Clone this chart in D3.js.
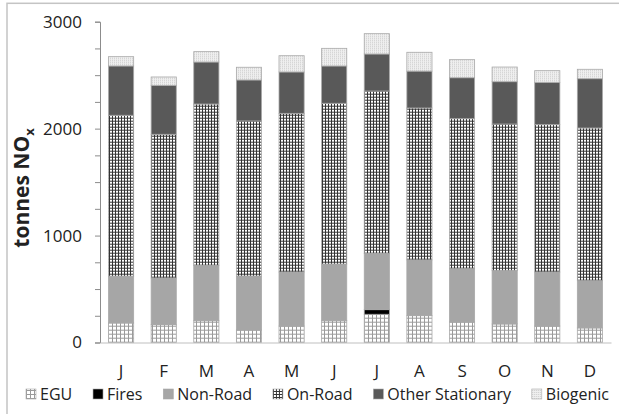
<!DOCTYPE html>
<html>
<head>
<meta charset="utf-8">
<script src="https://cdn.jsdelivr.net/npm/d3@7"></script>
<style>
  body { margin: 0; background: #fff; }
  text { font-family: "Open Sans", "Liberation Sans", sans-serif; fill: #222; }
</style>
</head>
<body>
<svg id="chart"></svg>
<script>
var viewWidth = 619;
var viewHeight = 414;

// data (tonnes NOx per month)
var months = ["J", "F", "M", "A", "M", "J", "J", "A", "S", "O", "N", "D"];
var sources = ["EGU", "Fires", "Non-Road", "On-Road", "Other Stationary", "Biogenic"];
var egu        = [182, 167, 204, 117, 154, 204, 264, 251, 192, 173, 154, 136];
var fires      = [0, 0, 0, 0, 0, 0, 43, 0, 0, 0, 0, 0];
var nonRoad    = [439, 436, 518, 505, 505, 530, 527, 521, 498, 499, 505, 442];
var onRoad     = [1504, 1344, 1508, 1450, 1484, 1503, 1518, 1421, 1403, 1371, 1378, 1428];
var otherStat  = [461, 458, 393, 383, 387, 349, 346, 345, 383, 396, 396, 461];
var biogenic   = [87, 78, 97, 119, 152, 165, 190, 176, 169, 137, 109, 88];
var yTicks = [0, 1000, 2000, 3000];

var series = [egu, fires, nonRoad, onRoad, otherStat, biogenic];
var rows = months.map(function(m, i) {
  var r = {idx: i, month: m};
  sources.forEach(function(s, j) { r[s] = series[j][i]; });
  return r;
});

var margin = {top: 21.7, right: 8, bottom: 71.5, left: 100};
var width = viewWidth - margin.left - margin.right;
var height = viewHeight - margin.top - margin.bottom;

var svg = d3.select("#chart")
    .attr("width", viewWidth)
    .attr("height", viewHeight);

// patterns
var defs = svg.append("defs");
var p = defs.append("pattern").attr("id", "pat-egu")
    .attr("patternUnits", "userSpaceOnUse").attr("width", 4).attr("height", 4);
p.append("rect").attr("width", 4).attr("height", 4).attr("fill", "#fff");
p.append("path").attr("d", "M0,0.5H4M0.5,0V4").attr("stroke", "#9a9a9a").attr("stroke-width", 1);

p = defs.append("pattern").attr("id", "pat-onroad")
    .attr("patternUnits", "userSpaceOnUse").attr("width", 3).attr("height", 3);
p.append("rect").attr("width", 3).attr("height", 3).attr("fill", "#333");
p.append("rect").attr("x", 1).attr("y", 1).attr("width", 2).attr("height", 2).attr("fill", "#fff");

p = defs.append("pattern").attr("id", "pat-bio")
    .attr("patternUnits", "userSpaceOnUse").attr("width", 2).attr("height", 2);
p.append("rect").attr("width", 2).attr("height", 2).attr("fill", "#efefef");
p.append("rect").attr("width", 1).attr("height", 1).attr("fill", "#cccccc");

var fills = {
  "EGU": "url(#pat-egu)",
  "Fires": "#000",
  "Non-Road": "#a6a6a6",
  "On-Road": "url(#pat-onroad)",
  "Other Stationary": "#595959",
  "Biogenic": "url(#pat-bio)"
};

// outer frame
svg.append("rect")
    .attr("x", 7).attr("y", 3.3)
    .attr("width", 640).attr("height", 440)
    .attr("fill", "none").attr("stroke", "#c4c4c4").attr("stroke-width", 1.5);

var g = svg.append("g")
    .attr("transform", "translate(" + margin.left + "," + margin.top + ")");

var x = d3.scaleBand()
    .domain(d3.range(months.length))
    .range([0, width])
    .paddingInner(0.41)
    .paddingOuter(0.2);
var y = d3.scaleLinear()
    .domain([0, 3000])
    .range([height, 0]);

var stack = d3.stack().keys(sources);
var layers = stack(rows);

g.selectAll(".layer")
    .data(layers)
  .enter().append("g")
    .attr("class", "layer")
    .attr("fill", function(d) { return fills[d.key]; })
  .selectAll("rect")
    .data(function(d) { return d.filter(function(v) { return v[1] - v[0] > 0; }); })
  .enter().append("rect")
    .attr("x", function(d) { return x(d.data.idx); })
    .attr("width", x.bandwidth())
    .attr("y", function(d) { return y(d[1]); })
    .attr("height", function(d) { return y(d[0]) - y(d[1]); })
    .attr("stroke", "#a8a8a8")
    .attr("stroke-width", 0.8);

// y axis
var yAxis = d3.axisLeft(y)
    .tickValues(d3.range(0, 3001, 250))
    .tickSize(5)
    .tickFormat(function(d) { return yTicks.indexOf(d) >= 0 ? d : ""; });
var ya = g.append("g").attr("class", "y axis").call(yAxis);
ya.select(".domain").attr("stroke", "#8c8c8c");
ya.selectAll(".tick line").attr("stroke", "#8c8c8c");
ya.selectAll(".tick text")
    .attr("x", -18)
    .style("font-size", "17px")
    .style("fill", "#222");

// x axis
var xAxis = d3.axisBottom(x)
    .tickSize(0)
    .tickFormat(function(i) { return months[i]; });
var xa = g.append("g").attr("class", "x axis")
    .attr("transform", "translate(0," + height + ")")
    .call(xAxis);
xa.select(".domain").attr("stroke", "#c0c0c0").attr("stroke-width", 1.2);
xa.selectAll(".tick text")
    .attr("y", 22)
    .style("font-size", "17px")
    .style("fill", "#222");

// y title
var title = svg.append("text")
    .attr("transform", "translate(29,188) rotate(-90)")
    .attr("text-anchor", "middle")
    .style("font-size", "21px")
    .style("font-weight", "bold");
title.append("tspan").text("tonnes NO");
title.append("tspan").attr("dy", 5).style("font-size", "13px").text("x");

// legend
var legend = svg.append("g").attr("class", "legend")
    .attr("transform", "translate(0,394)");
var items = legend.selectAll("g")
    .data(sources)
  .enter().append("g");
items.append("rect")
    .attr("y", -5).attr("width", 10).attr("height", 10)
    .attr("fill", function(d) { return fills[d]; })
    .attr("stroke", "#a8a8a8").attr("stroke-width", 0.6);
items.append("text")
    .attr("x", 14).attr("dy", "0.35em")
    .style("font-size", "16px")
    .text(function(d) { return d; });

var widths = [];
items.each(function() {
  widths.push(14 + d3.select(this).select("text").node().getComputedTextLength());
});
var startX = 26, endX = 609;
var gap = (endX - startX - d3.sum(widths)) / (sources.length - 1);
var cx = startX;
items.attr("transform", function(d, i) {
  var t = "translate(" + cx + ",0)";
  cx += widths[i] + gap;
  return t;
});
</script>
</body>
</html>
